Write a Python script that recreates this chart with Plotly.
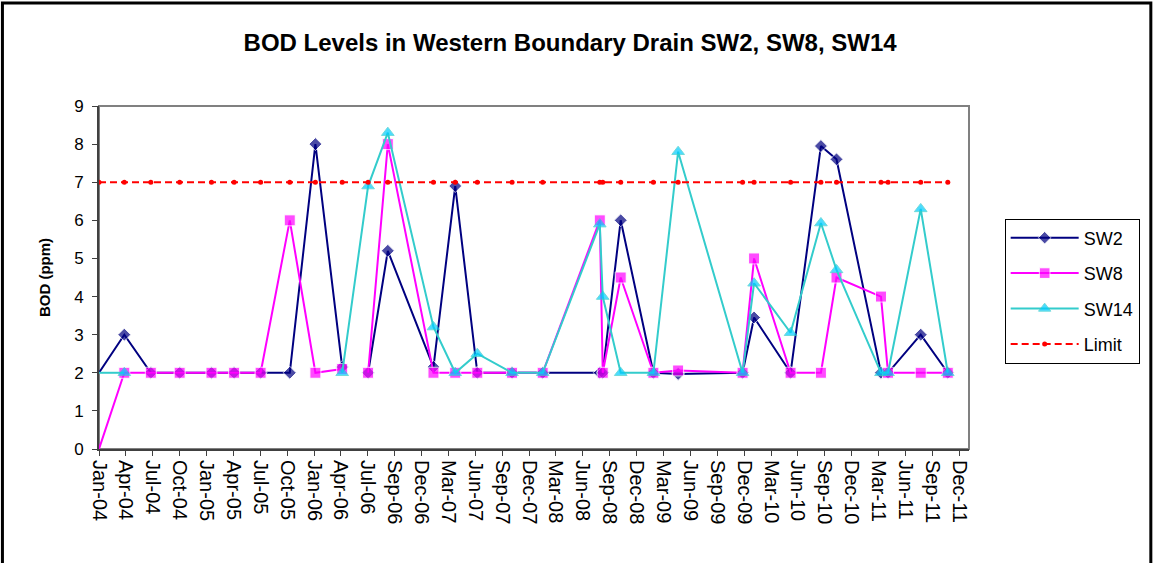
import pandas as pd
import plotly.graph_objects as go

# axis labels as printed on the chart (one every ~quarter)
tick_labels = ["Jan-04", "Apr-04", "Jul-04", "Oct-04", "Jan-05", "Apr-05", "Jul-05", "Oct-05",
               "Jan-06", "Apr-06", "Jul-06", "Sep-06", "Dec-06", "Mar-07", "Jun-07", "Sep-07",
               "Dec-07", "Mar-08", "Jun-08", "Sep-08", "Dec-08", "Mar-09", "Jun-09", "Sep-09",
               "Dec-09", "Mar-10", "Jun-10", "Sep-10", "Dec-10", "Mar-11", "Jun-11", "Sep-11",
               "Dec-11"]

# sampling dates
sample_dates = ["2004-01-01", "2004-03-27", "2004-06-25", "2004-10-01", "2005-01-17",
                "2005-04-04", "2005-07-03", "2005-10-10", "2006-01-05", "2006-04-06",
                "2006-07-03", "2006-09-08", "2007-02-10", "2007-04-25", "2007-07-09",
                "2007-11-04", "2008-02-16", "2008-08-28", "2008-09-07", "2008-11-07",
                "2009-02-26", "2009-05-21", "2009-12-26", "2010-02-03", "2010-06-07",
                "2010-09-18", "2010-11-10", "2011-04-10", "2011-05-04", "2011-08-23",
                "2011-11-23"]

# gaps (empty cells) are None; the extra mid-2006 date carries the break
sw2_dates = sample_dates[:10] + ["2006-05-20"] + sample_dates[10:]
sw2 = [2, 3, 2, 2, 2, 2, 2, 2, 8, 2.15, None, 2, 5.2, 2.15, 6.9, 2.0, 2, 2, 2, 2, 6,
       2, 1.97, 2, 3.45, 2, 7.95, 7.6, 2, 2, 3, 2]

sw8_dates = sw2_dates
sw8 = [0, 2, 2, 2, 2, 2, 2, 6, 2, 2.1, None, 2, 8, 2, 2, 2, 2, 2, 6, 2, 4.5,
       2, 2.06, 2, 5, 2, 2, 4.5, 4.0, 2, 2, 2]

sw14_dates = sample_dates
sw14 = [2, 2, None, None, None, None, None, None, None, 2, 6.9, 8.3, 3.2, 2, 2.5, 2,
        2, 5.9, 4, 2, 2, 7.8, 2, 4.35, 3.05, 5.93, 4.7, 2, 2, 6.3, 2]

limit = [7] * len(sample_dates)

font = "Liberation Sans, Arial, sans-serif"
t0 = pd.Timestamp("2004-01-01")
step = pd.Timedelta(days=91.3)
tickvals = [t0 + step * k for k in range(len(tick_labels))]


def sizes(n, s):
    # first point sits on the axis edge, its marker is not drawn
    return [0] + [s] * (n - 1)


fig = go.Figure()
fig.add_trace(go.Scatter(
    x=sw2_dates, y=sw2, name="SW2", mode="lines+markers", connectgaps=False,
    line=dict(color="#000080", width=2),
    marker=dict(symbol="diamond", size=sizes(len(sw2), 10), color="#000080")))
fig.add_trace(go.Scatter(
    x=sw8_dates, y=sw8, name="SW8", mode="lines+markers", connectgaps=False,
    line=dict(color="#FF00FF", width=2),
    marker=dict(symbol="square", size=sizes(len(sw8), 11), color="#FF00FF")))
fig.add_trace(go.Scatter(
    x=sw14_dates, y=sw14, name="SW14", mode="lines+markers", connectgaps=False,
    line=dict(color="#33CCCC", width=2),
    marker=dict(symbol="triangle-up", size=sizes(len(sw14), 11), color="#00CCFF")))
fig.add_trace(go.Scatter(
    x=sample_dates, y=limit, name="Limit", mode="lines+markers",
    line=dict(color="#FF0000", width=2, dash="7px,4px"),
    marker=dict(symbol="circle", size=5, color="#FF0000")))

fig.update_layout(
    width=1154, height=563,
    paper_bgcolor="white", plot_bgcolor="white",
    margin=dict(l=99, r=185, t=106, b=114),
    font=dict(family=font, size=15, color="black"),
    title=dict(text="<b>BOD Levels in Western Boundary Drain SW2, SW8, SW14</b>",
               x=0.494, xanchor="center", y=0.924, yanchor="middle",
               font=dict(family=font, size=24, color="black")),
    showlegend=True,
    legend=dict(x=1.041, y=0.672, xanchor="left", yanchor="top",
                bordercolor="black", borderwidth=1, bgcolor="white",
                font=dict(family=font, size=18), itemwidth=68,
                tracegroupgap=9),
    shapes=[
        dict(type="rect", xref="paper", yref="paper", x0=0, x1=1, y0=0, y1=1,
             line=dict(color="#808080", width=2), layer="below"),
        dict(type="rect", xref="paper", yref="paper", x0=-0.111, x1=1.209,
             y0=-0.4, y1=1.3, line=dict(color="black", width=3)),
    ],
)
for i, tr in enumerate(fig.data):
    tr.legendgroup = "g%d" % i

fig.update_xaxes(
    type="date", range=[t0, pd.Timestamp("2012-02-03")],
    tickmode="array", tickvals=tickvals, ticktext=tick_labels, tickangle=90,
    ticks="outside", ticklen=5, tickcolor="#404040", showgrid=False, zeroline=False,
    showline=True, linecolor="#404040", linewidth=2,
    tickfont=dict(family=font, size=20, color="black"))
fig.update_yaxes(
    range=[0, 9], dtick=1, ticks="outside", ticklen=5, tickcolor="#404040",
    showgrid=False, zeroline=False, showline=True, linecolor="#404040", linewidth=2,
    ticklabelstandoff=5,
    tickfont=dict(family=font, size=17, color="black"),
    title=dict(text="<b>BOD (ppm)</b>", standoff=20,
               font=dict(family=font, size=15, color="black")))

# the page's default 8px body margin would shift the chart
fig.write_html("out.html", config={"displayModeBar": False},
               post_script="document.body.style.margin='0px';")
